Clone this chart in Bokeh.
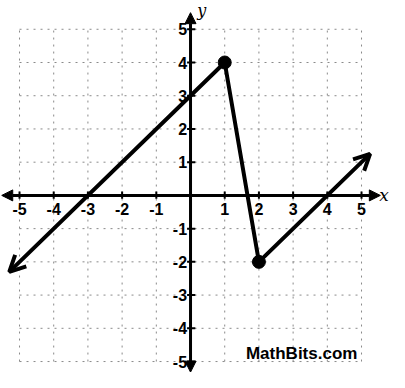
from bokeh.plotting import figure
from bokeh.models import Range1d, Arrow, NormalHead, OpenHead
from bokeh.core.properties import value
from bokeh.embed import file_html
from bokeh.resources import INLINE

# ---- data ----
grid_vals = [-5, -4, -3, -2, -1, 0, 1, 2, 3, 4, 5]
tick_vals = [-5, -4, -3, -2, -1, 1, 2, 3, 4, 5]
tick_labels = ["-5", "-4", "-3", "-2", "-1", "1", "2", "3", "4", "5"]
piece_x = [-5.3, 1, 2, 5.25]
piece_y = [-2.3, 4, -2, 1.25]
point_x = [1, 2]
point_y = [4, -2]
watermark = "MathBits.com"

p = figure(width=389, height=372, output_backend="svg", toolbar_location=None,
           x_range=Range1d(-5.556, 5.818), y_range=Range1d(-5.33, 5.866),
           min_border=0, background_fill_color="white")
p.axis.visible = False
p.grid.visible = False
p.outline_line_color = None

# dotted grid
p.segment(x0=grid_vals, y0=[-5] * len(grid_vals), x1=grid_vals, y1=[5] * len(grid_vals),
          line_color="#8a8a8a", line_width=1, line_dash="2 5")
p.segment(x0=[-5] * len(grid_vals), y0=grid_vals, x1=[5] * len(grid_vals), y1=grid_vals,
          line_color="#8a8a8a", line_width=1, line_dash="2 5")

# axes with arrows
p.add_layout(Arrow(start=NormalHead(size=11, fill_color="black", line_color="black"),
                   end=NormalHead(size=11, fill_color="black", line_color="black"),
                   x_start=-5.52, y_start=0, x_end=5.55, y_end=0,
                   line_color="black", line_width=3))
p.add_layout(Arrow(start=NormalHead(size=11, fill_color="black", line_color="black"),
                   end=NormalHead(size=11, fill_color="black", line_color="black"),
                   x_start=0, y_start=-5.32, x_end=0, y_end=5.5,
                   line_color="black", line_width=3))

# tick marks
p.segment(x0=tick_vals, y0=[-0.1] * len(tick_vals), x1=tick_vals, y1=[0.12] * len(tick_vals),
          line_color="black", line_width=2)
p.segment(x0=[-0.1] * len(tick_vals), y0=tick_vals, x1=[0.14] * len(tick_vals), y1=tick_vals,
          line_color="black", line_width=2)

# tick labels
p.text(x=tick_vals, y=[-0.42] * len(tick_vals), text=tick_labels,
       text_font=value("Liberation Sans"), text_font_style="bold", text_font_size="16px",
       text_align="center", text_baseline="middle", text_color="black")
p.text(x=[-0.1] * len(tick_vals), y=tick_vals, text=tick_labels,
       text_font=value("Liberation Sans"), text_font_style="bold", text_font_size="16px",
       text_align="right", text_baseline="middle", text_color="black")

# axis names
p.text(x=[5.80], y=[0.02], text=["x"], text_font=value("DejaVu Serif"),
       text_font_style="italic", text_font_size="17px", text_align="right",
       text_baseline="middle", text_color="black")
p.text(x=[0.2], y=[5.86], text=["y"], text_font=value("DejaVu Serif"),
       text_font_style="italic", text_font_size="16px", text_align="left",
       text_baseline="top", text_color="black")

# piecewise function
p.line(piece_x, piece_y, line_color="black", line_width=4)
p.add_layout(Arrow(end=OpenHead(size=16, line_width=4, line_color="black"),
                   x_start=piece_x[1], y_start=piece_y[1], x_end=piece_x[0], y_end=piece_y[0],
                   line_color="black", line_width=0, line_alpha=0))
p.add_layout(Arrow(end=OpenHead(size=16, line_width=4, line_color="black"),
                   x_start=piece_x[2], y_start=piece_y[2], x_end=piece_x[3], y_end=piece_y[3],
                   line_color="black", line_width=0, line_alpha=0))
p.scatter(point_x, point_y, size=13, fill_color="black", line_color="black")

# watermark
p.text(x=[3.25], y=[-4.75], text=[watermark], text_font=value("Liberation Sans"),
       text_font_style="bold", text_font_size="17px", text_align="center",
       text_baseline="middle", text_color="black")

open("out.html", "w").write(file_html(p, INLINE))
